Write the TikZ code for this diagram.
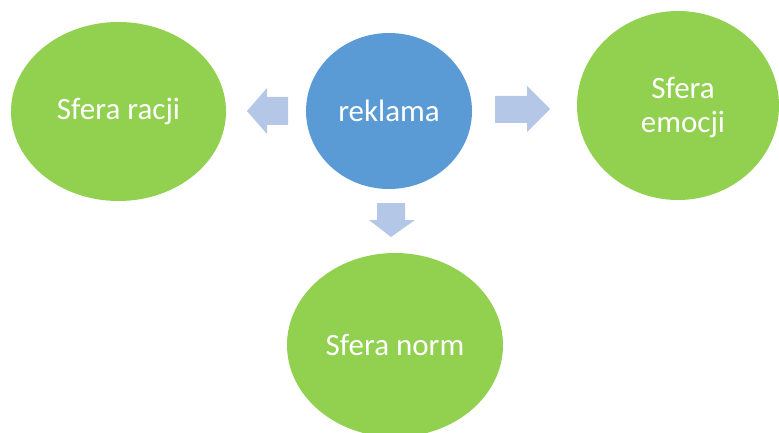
\documentclass[tikz,border=0pt]{standalone}
\usepackage{fontspec}
\setmainfont{Carlito}
\usetikzlibrary{shapes.geometric}
\definecolor{sgreen}{RGB}{146,208,80}
\definecolor{sblue}{RGB}{91,155,213}
\definecolor{sarrow}{RGB}{180,199,231}
\tikzset{
  sphere/.style={ellipse, fill=sgreen, text=white, inner sep=0pt, align=center,
    font=\fontsize{31}{34}\selectfont},
  centerball/.style={ellipse, fill=sblue, text=white, inner sep=0pt,
    font=\fontsize{31}{34}\selectfont},
  blockarrow/.style={fill=sarrow}
}
\begin{document}
\begin{tikzpicture}[x=1pt,y=-1pt]
\useasboundingbox (0,0) rectangle (779,433);
\clip (0,0) rectangle (779,433);
\node[centerball, minimum width=166pt, minimum height=156pt] (rek) at (389,111) {reklama};
\node[sphere, minimum width=215pt, minimum height=179pt] (racji) at (118.5,111.5) {Sfera racji};
\node[sphere, minimum width=202pt, minimum height=189pt] (emocji) at (678,105.5) {};
\node[text=white, align=center, font=\fontsize{31}{34}\selectfont] (emocjitext) at (683,108) {Sfera\\emocji};
\node[sphere, minimum width=216pt, minimum height=184pt] (norm) at (395,345) {Sfera norm};
% block arrows
\fill[blockarrow] (247,111) -- (267,88) -- (267,97) -- (288,97) -- (288,125) -- (267,125) -- (267,134) -- cycle;
\fill[blockarrow] (495,96) -- (527,96) -- (527,86) -- (550,109) -- (527,132) -- (527,123) -- (495,123) -- cycle;
\fill[blockarrow] (377,203) -- (405,203) -- (405,220) -- (415,220) -- (391,237) -- (369,220) -- (377,220) -- cycle;
\end{tikzpicture}
\end{document}
